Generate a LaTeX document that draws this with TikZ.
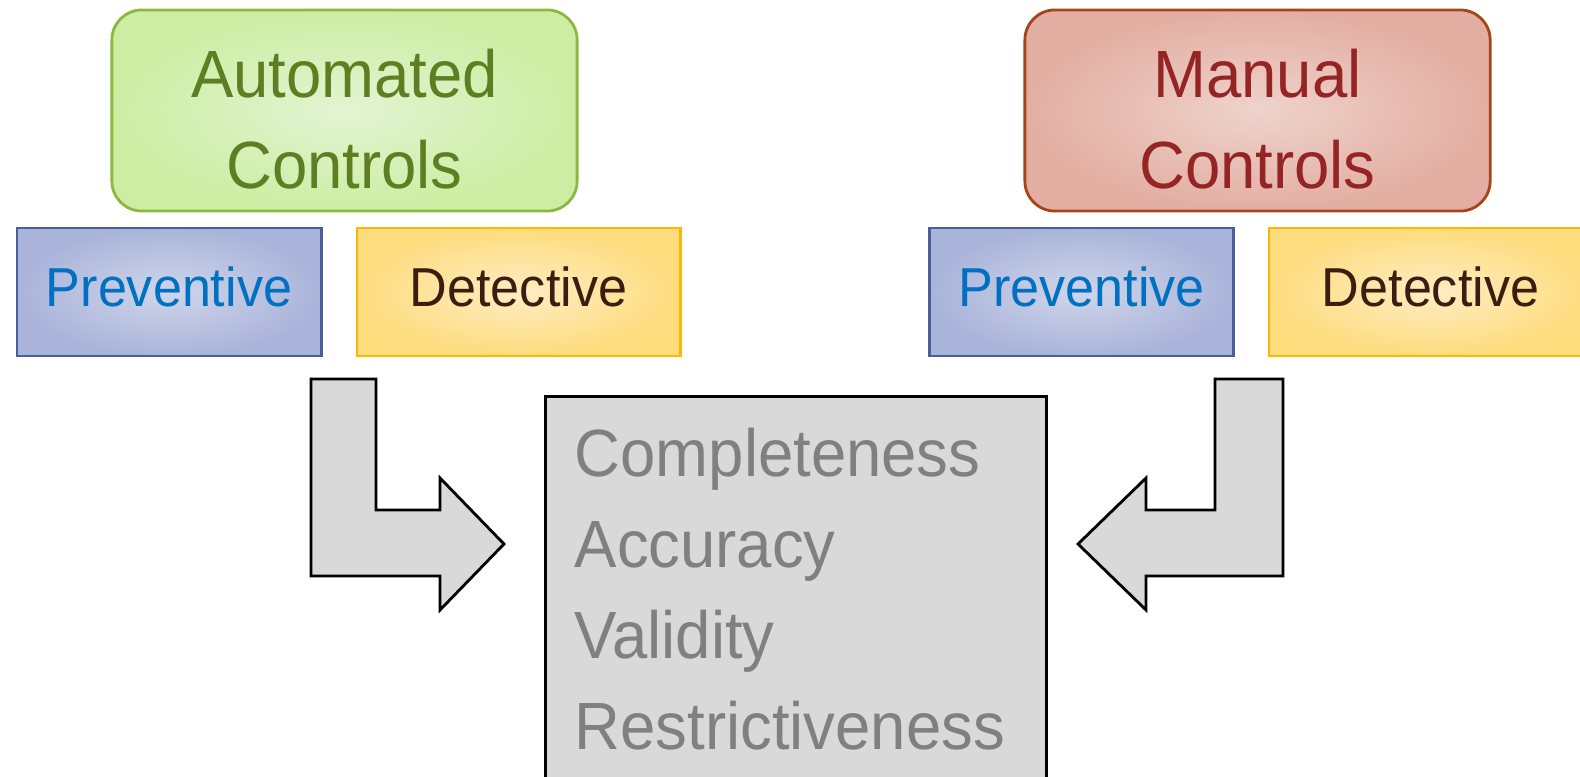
\documentclass[tikz,border=0pt]{standalone}
\usepackage{fontspec}
\setmainfont{Liberation Sans}[FakeStretch=0.95]
\usepackage{xcolor}
\usetikzlibrary{positioning,calc}

\definecolor{autoText}{HTML}{5E7E22}
\definecolor{autoLine}{HTML}{8DB840}
\definecolor{autoIn}{HTML}{E3F4D3}
\definecolor{autoOut}{HTML}{CDEDA3}
\definecolor{manText}{HTML}{952424}
\definecolor{manLine}{HTML}{A5451A}
\definecolor{manIn}{HTML}{EED3CC}
\definecolor{manOut}{HTML}{E3AEA2}
\definecolor{prevText}{HTML}{0070C0}
\definecolor{prevLine}{HTML}{4A5F99}
\definecolor{prevIn}{HTML}{CFD5EA}
\definecolor{prevOut}{HTML}{AAB4DA}
\definecolor{detText}{HTML}{3B1E10}
\definecolor{detLine}{HTML}{FFB800}
\definecolor{detIn}{HTML}{FFEDC2}
\definecolor{detOut}{HTML}{FDDC7E}
\definecolor{qualFill}{HTML}{D9D9D9}

\newcommand{\toplift}{\rule{0pt}{18.5pt}}

\begin{document}
\begin{tikzpicture}[x=0.01cm, y=-0.01cm,
    group/.style={rectangle, rounded corners=0.3cm, draw, line width=0.8pt, minimum width=4.65cm, minimum height=2.01cm, align=center, inner sep=0pt, shading=radial, font=\fontsize{19}{25.9}\selectfont},
    autobox/.style={group, draw=autoLine, inner color=autoIn, outer color=autoOut, text=autoText},
    manbox/.style={group, draw=manLine, inner color=manIn, outer color=manOut, text=manText},
    kind/.style={rectangle, draw, line width=0.8pt, minimum height=1.28cm, inner sep=0pt, text depth=2.8pt, shading=radial, font=\fontsize{15.6}{18}\selectfont},
    prevbox/.style={kind, minimum width=3.04cm, draw=prevLine, inner color=prevIn, outer color=prevOut, text=prevText},
    detbox/.style={kind, minimum width=3.23cm, draw=detLine, inner color=detIn, outer color=detOut, text=detText},
    quality/.style={rectangle, draw=black, line width=0.8pt, fill=qualFill, minimum width=5.01cm, minimum height=4.2cm, inner sep=0pt},
    blockarrow/.style={draw=black, line width=0.8pt, fill=qualFill, line join=miter}]

    \clip (0,0) rectangle (1580,776);

    % control groups
    \node[autobox] (auto) at (344.5,110.5) {\toplift Automated\\Controls};
    \node[prevbox] (prevA) at (169,292) {Preventive};
    \node[detbox] (detA) at (518.5,292) {Detective};

    \node[manbox] (manual) at (1257.5,110.5) {\toplift Manual\\Controls};
    \node[prevbox] (prevM) at (1081.5,292) {Preventive};
    \node[detbox] (detM) at (1430.5,292) {Detective};

    % assertions
    \node[quality, anchor=north west] (assert) at (544,395) {};
    \node[anchor=north west, align=left, inner sep=0pt, text=gray, font=\fontsize{19}{25.9}\selectfont] (assertText) at (574,427) {Completeness\\Accuracy\\Validity\\Restrictiveness};

    % block arrows
    \draw[blockarrow] (311,379) -- (376,379) -- (376,510) -- (440,510) -- (440,478) -- (504,544) -- (440,610) -- (440,576) -- (311,576) -- cycle;
    \draw[blockarrow] (1283,379) -- (1215,379) -- (1215,510) -- (1146,510) -- (1146,478) -- (1078,544) -- (1146,610) -- (1146,576) -- (1283,576) -- cycle;

\end{tikzpicture}
\end{document}
